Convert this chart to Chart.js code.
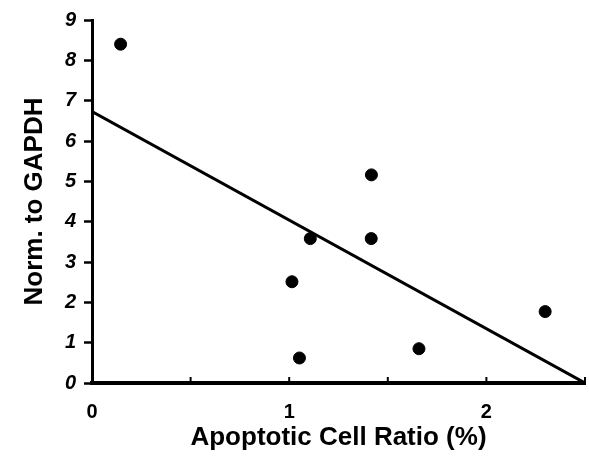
<!DOCTYPE html>
<html>
<head>
<meta charset="utf-8">
<script src="https://cdn.jsdelivr.net/npm/chart.js@4/dist/chart.umd.min.js"></script>
<style>
  html, body { margin: 0; padding: 0; background: #fff; overflow: hidden; }
  canvas { display: block; }
</style>
</head>
<body>
<canvas id="chart" width="589" height="459"></canvas>
<script>
// measured points (apoptotic ratio %, normalised expression)
const ratioX = [0.145, 1.014, 1.107, 1.417, 1.416, 1.052, 1.658, 2.298];
const normY = [8.40, 2.51, 3.58, 5.16, 3.58, 0.62, 0.85, 1.77];
// regression line end points
const fitX = [0, 2.5];
const fitY = [6.73, 0];

const xTitle = "Apoptotic Cell Ratio (%)";
const yTitle = "Norm. to GAPDH";
const fontFam = "'Liberation Sans', Arial, sans-serif";

// small inward ticks on the x axis
const innerTicks = {
    id: "innerTicks",
    afterDraw(chart) {
        const x = chart.scales.x;
        const ctx = chart.ctx;
        const bottom = chart.chartArea.bottom;
        ctx.save();
        ctx.strokeStyle = "#000";
        ctx.lineWidth = 2;
        x.ticks.forEach(t => {
            if (t.value === 0) return;
            const px = x.getPixelForValue(t.value);
            ctx.beginPath();
            ctx.moveTo(px, bottom);
            ctx.lineTo(px, bottom - 6);
            ctx.stroke();
        });
        ctx.restore();
    }
};

const ctx = document.getElementById("chart").getContext("2d");
new Chart(ctx, {
    type: "scatter",
    data: {
        datasets: [{
            data: ratioX.map((v, i) => ({ x: v, y: normY[i] })),
            backgroundColor: "#000",
            borderColor: "#000",
            pointRadius: 6,
            pointHoverRadius: 6,
            order: 1
        }, {
            data: fitX.map((v, i) => ({ x: v, y: fitY[i] })),
            showLine: true,
            borderColor: "#000",
            borderWidth: 3,
            pointRadius: 0,
            order: 2
        }]
    },
    options: {
        responsive: false,
        animation: false,
        layout: { autoPadding: false, padding: { top: 17, right: 4, left: 0, bottom: 0 } },
        plugins: {
            legend: { display: false },
            tooltip: { enabled: false }
        },
        scales: {
            x: {
                type: "linear",
                min: 0,
                max: 2.5,
                border: { display: true, color: "#000", width: 4 },
                grid: { display: false, drawTicks: false },
                ticks: {
                    stepSize: 0.5,
                    autoSkip: false,
                    maxRotation: 0,
                    padding: 17,
                    color: "#000",
                    font: { family: fontFam, size: 20, weight: "bold" },
                    callback: v => (v % 1 === 0 && v < 2.5) ? v : ""
                },
                title: {
                    display: true,
                    text: xTitle,
                    color: "#000",
                    padding: { top: 0, bottom: 6 },
                    font: { family: fontFam, size: 26, weight: "bold" }
                },
                afterFit: s => {
                    s.height = 76;
                    // tick padding would otherwise be reserved at both ends
                    s.paddingLeft = 0;
                    s.paddingRight = 0;
                }
            },
            y: {
                min: 0,
                max: 9,
                border: { display: true, color: "#000", width: 3 },
                grid: {
                    drawOnChartArea: false,
                    drawTicks: true,
                    tickLength: 8,
                    tickColor: "#000",
                    tickWidth: 2.5
                },
                ticks: {
                    stepSize: 1,
                    padding: 8,
                    color: "#000",
                    font: { family: fontFam, size: 20, weight: "bold", style: "italic" }
                },
                title: {
                    display: true,
                    text: yTitle,
                    color: "#000",
                    padding: { top: 19, bottom: 0 },
                    font: { family: fontFam, size: 26, weight: "bold" }
                },
                afterFit: s => { s.width = 92; }
            }
        }
    },
    plugins: [innerTicks]
});
</script>
</body>
</html>
